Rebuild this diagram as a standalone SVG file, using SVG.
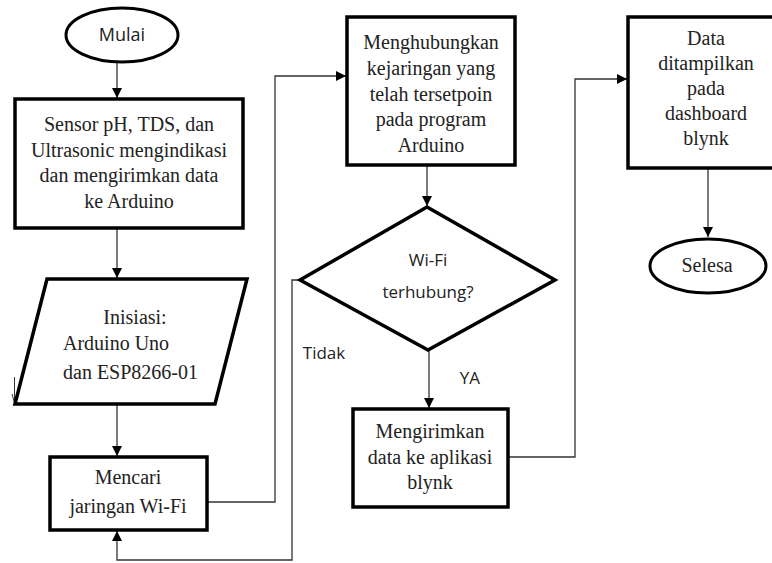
<svg xmlns="http://www.w3.org/2000/svg" width="772" height="563" viewBox="0 0 772 563">
<style>
.box{fill:#fff;stroke:#000;stroke-width:3.5}
.term{fill:#fff;stroke:#000;stroke-width:3}
.serif{font-family:"Liberation Serif","Times New Roman",serif;font-size:20px;fill:#222;text-anchor:middle}
.serif.left{text-anchor:start}
.sans{font-family:"Open Sans","Noto Sans",sans-serif;font-size:17px;fill:#222;text-anchor:middle}
.sans.big{font-size:18px}
.conn{fill:none;stroke:#333;stroke-width:1.3}
.thin{fill:none;stroke:#333;stroke-width:1}
</style>
<defs>
<marker id="arr" markerUnits="userSpaceOnUse" markerWidth="12" markerHeight="12" refX="10" refY="5" orient="auto">
<path d="M0,0 L10,5 L0,10 Z" fill="#000"/>
</marker>
</defs>
<rect width="772" height="563" fill="#fff"/>

<g id="connectors">
<line class="conn" x1="117" y1="62" x2="117" y2="98" marker-end="url(#arr)"/>
<line class="conn" x1="117" y1="228" x2="117" y2="278" marker-end="url(#arr)"/>
<line class="conn" x1="117" y1="404" x2="117" y2="456" marker-end="url(#arr)"/>
<path class="conn" d="M207 502 H275 V76 H346" marker-end="url(#arr)"/>
<line class="conn" x1="427" y1="165" x2="427" y2="206" marker-end="url(#arr)"/>
<path class="conn" d="M300 280 H292 V560 H117 V531" marker-end="url(#arr)"/>
<line class="conn" x1="429" y1="350" x2="429" y2="408" marker-end="url(#arr)"/>
<path class="conn" d="M508 457 H575 V79 H627" marker-end="url(#arr)"/>
<line class="conn" x1="708" y1="168" x2="708" y2="237" marker-end="url(#arr)"/>
<line class="thin" x1="14.5" y1="377" x2="14.5" y2="403"/>
<polyline class="thin" points="12,394 14.5,403 17,394"/>
</g>

<g id="mulai">
<ellipse class="term" cx="122" cy="35" rx="56" ry="27"/>
<text class="sans big" x="122" y="41">Mulai</text>
</g>

<g id="sensor">
<rect class="box" x="15" y="99" width="228" height="129"/>
<text class="serif" x="129" y="131">Sensor pH, TDS, dan</text>
<text class="serif" x="129" y="157">Ultrasonic mengindikasi</text>
<text class="serif" x="129" y="182">dan mengirimkan data</text>
<text class="serif" x="129" y="208">ke Arduino</text>
</g>

<g id="inisiasi">
<polygon class="box" points="47,279 247,279 215,404 15,404"/>
<text class="serif" x="135" y="324">Inisiasi:</text>
<text class="serif left" x="63" y="350">Arduino Uno</text>
<text class="serif left" x="63" y="379">dan ESP8266-01</text>
</g>

<g id="mencari">
<rect class="box" x="50" y="457" width="157" height="73"/>
<text class="serif" x="128" y="484">Mencari</text>
<text class="serif" x="128" y="513">jaringan Wi-Fi</text>
</g>

<g id="menghubungkan">
<rect class="box" x="347" y="17" width="168" height="148"/>
<text class="serif" x="431" y="49">Menghubungkan</text>
<text class="serif" x="431" y="75">kejaringan yang</text>
<text class="serif" x="431" y="100.5">telah tersetpoin</text>
<text class="serif" x="431" y="126">pada program</text>
<text class="serif" x="431" y="152">Arduino</text>
</g>

<g id="wifi">
<polygon class="box" points="427,207 555,280 428,350 300,280"/>
<text class="sans" x="428" y="266">Wi-Fi</text>
<text class="sans" x="428" y="298">terhubung?</text>
</g>

<g id="labels">
<text class="sans" x="324" y="359">Tidak</text>
<text class="sans" x="470" y="384">YA</text>
</g>

<g id="mengirimkan">
<rect class="box" x="353" y="409" width="155" height="98"/>
<text class="serif" x="430" y="438">Mengirimkan</text>
<text class="serif" x="430" y="464">data ke aplikasi</text>
<text class="serif" x="430" y="489">blynk</text>
</g>

<g id="data">
<rect class="box" x="628" y="17" width="156" height="151"/>
<text class="serif" x="706" y="45">Data</text>
<text class="serif" x="706" y="70">ditampilkan</text>
<text class="serif" x="706" y="95">pada</text>
<text class="serif" x="706" y="120">dashboard</text>
<text class="serif" x="706" y="145">blynk</text>
</g>

<g id="selesa">
<ellipse class="term" cx="708" cy="266" rx="58" ry="27"/>
<text class="serif" x="707" y="272">Selesa</text>
</g>
</svg>
